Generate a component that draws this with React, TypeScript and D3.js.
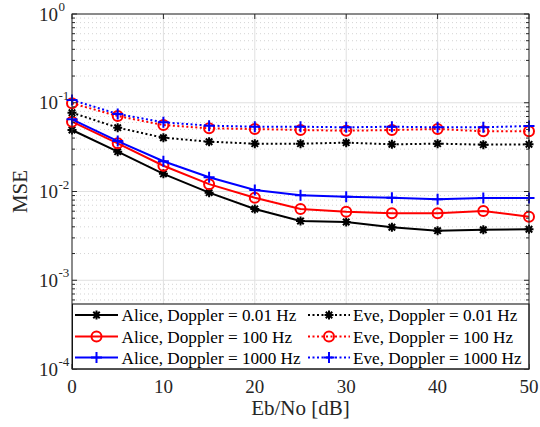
import React from "react";
import * as d3 from "d3";

const snr = [0, 5, 10, 15, 20, 25, 30, 35, 40, 45, 50];
const aliceLow = [0.0493, 0.0281, 0.0158, 0.0097, 0.00635, 0.00465, 0.00453, 0.00395, 0.00362, 0.00371, 0.00375];
const alice100 = [0.0612, 0.0349, 0.0195, 0.0121, 0.0085, 0.00635, 0.00592, 0.00568, 0.00568, 0.00603, 0.0052];
const alice1000 = [0.065, 0.037, 0.0219, 0.0145, 0.0104, 0.00906, 0.00874, 0.00851, 0.00817, 0.00845, 0.00845];
const eveLow = [0.0773, 0.0524, 0.0404, 0.0364, 0.0346, 0.0346, 0.0355, 0.034, 0.0346, 0.0337, 0.034];
const eve100 = [0.0986, 0.0709, 0.0561, 0.0515, 0.0506, 0.0493, 0.0484, 0.0493, 0.0506, 0.0477, 0.0477];
const eve1000 = [0.1075, 0.0747, 0.0602, 0.0552, 0.0537, 0.0537, 0.0529, 0.0537, 0.0529, 0.0529, 0.0547];

const xTicks = [0, 10, 20, 30, 40, 50];
const yDecades = [-4, -3, -2, -1, 0];

const seriesNames = [
  "Alice, Doppler = 0.01 Hz",
  "Alice, Doppler = 100 Hz",
  "Alice, Doppler = 1000 Hz",
  "Eve, Doppler = 0.01 Hz",
  "Eve, Doppler = 100 Hz",
  "Eve, Doppler = 1000 Hz",
];

type Series = { name: string; values: number[]; color: string; dotted: boolean; marker: string };

const series: Series[] = [
  { name: seriesNames[0], values: aliceLow, color: "#000000", dotted: false, marker: "star" },
  { name: seriesNames[1], values: alice100, color: "#ff0000", dotted: false, marker: "circle" },
  { name: seriesNames[2], values: alice1000, color: "#0000ff", dotted: false, marker: "plus" },
  { name: seriesNames[3], values: eveLow, color: "#000000", dotted: true, marker: "star" },
  { name: seriesNames[4], values: eve100, color: "#ff0000", dotted: true, marker: "circle" },
  { name: seriesNames[5], values: eve1000, color: "#0000ff", dotted: true, marker: "plus" },
];

const W = 540;
const H = 427;
const L = 72, R = 529, T = 14, B = 369;
const FONT = "Liberation Serif";

function Marker({ type, x, y, color }: { type: string; x: number; y: number; color: string }) {
  if (type === "circle") {
    return <circle cx={x} cy={y} r={5} fill="none" stroke={color} strokeWidth={2} />;
  }
  if (type === "plus") {
    const s = 5.5;
    return (
      <path d={`M${x - s},${y}H${x + s}M${x},${y - s}V${y + s}`} stroke={color} strokeWidth={2} fill="none" />
    );
  }
  const s = 4.5;
  const d = s * 0.72;
  return (
    <path
      d={`M${x - s},${y}H${x + s}M${x},${y - s}V${y + s}M${x - d},${y - d}L${x + d},${y + d}M${x - d},${y + d}L${x + d},${y - d}`}
      stroke={color}
      strokeWidth={2}
      fill="none"
    />
  );
}

export default function App() {
  const x = d3.scaleLinear().domain([0, 50]).range([L, R]);
  const y = d3.scaleLog().domain([1e-4, 1]).range([B, T]);
  const line = d3
    .line<number>()
    .x((_, i) => x(snr[i]))
    .y((v) => y(v));

  const minor: number[] = [];
  for (const e of yDecades.slice(0, -1)) {
    for (let k = 2; k <= 9; k++) minor.push(k * Math.pow(10, e));
  }
  const axisColor = "#262626";

  const legTop = 304;
  const legRows = [315, 336.5, 357.5];
  const legCols = [
    { x0: 75, x1: 118, tx: 121.5 },
    { x0: 308, x1: 350, tx: 353 },
  ];

  return (
    <svg width={W} height={H} style={{ position: "absolute", left: 0, top: 0, background: "#fff" }} fontFamily={FONT}>
      <rect x={0} y={0} width={W} height={H} fill="#fff" />
      {minor.map((v, i) => (
        <line key={"mg" + i} x1={L} x2={R} y1={y(v)} y2={y(v)} stroke="#c8c8c8" strokeWidth={0.8} strokeDasharray="1 3" />
      ))}
      {yDecades.map((e) => (
        <line key={"yg" + e} x1={L} x2={R} y1={y(Math.pow(10, e))} y2={y(Math.pow(10, e))} stroke="#e0e0e0" strokeWidth={1} />
      ))}
      {xTicks.map((t) => (
        <line key={"xg" + t} x1={x(t)} x2={x(t)} y1={T} y2={B} stroke="#e0e0e0" strokeWidth={1} />
      ))}
      {series.map((s, si) => (
        <g key={"s" + si}>
          <path
            d={line(s.values) || ""}
            fill="none"
            stroke={s.color}
            strokeWidth={2}
            strokeDasharray={s.dotted ? "2 2.5" : undefined}
          />
          {s.values.map((v, i) => (
            <Marker key={i} type={s.marker} x={x(snr[i])} y={y(v)} color={s.color} />
          ))}
        </g>
      ))}
      {xTicks.map((t) => (
        <g key={"xt" + t}>
          <line x1={x(t)} x2={x(t)} y1={B} y2={B - 5} stroke={axisColor} />
          <line x1={x(t)} x2={x(t)} y1={T} y2={T + 5} stroke={axisColor} />
          <text x={x(t)} y={393} textAnchor="middle" fontSize={19} fill={axisColor}>
            {t}
          </text>
        </g>
      ))}
      {yDecades.map((e) => (
        <g key={"yt" + e}>
          <line x1={L} x2={L + 5} y1={y(Math.pow(10, e))} y2={y(Math.pow(10, e))} stroke={axisColor} />
          <line x1={R} x2={R - 5} y1={y(Math.pow(10, e))} y2={y(Math.pow(10, e))} stroke={axisColor} />
          <text x={58} y={y(Math.pow(10, e)) + 6.5} textAnchor="end" fontSize={19} fill={axisColor}>
            10
          </text>
          <text x={58.5} y={y(Math.pow(10, e)) - 3} textAnchor="start" fontSize={13} fill={axisColor}>
            {e === 0 ? "0" : "-" + Math.abs(e)}
          </text>
        </g>
      ))}
      {minor.map((v, i) => (
        <g key={"mt" + i}>
          <line x1={L} x2={L + 3} y1={y(v)} y2={y(v)} stroke={axisColor} />
          <line x1={R} x2={R - 3} y1={y(v)} y2={y(v)} stroke={axisColor} />
        </g>
      ))}
      <rect x={72.5} y={legTop} width={456.5} height={B - legTop} fill="#fff" stroke="#000" strokeWidth={1} />
      {series.map((s, si) => {
        const col = legCols[Math.floor(si / 3)];
        const ry = legRows[si % 3];
        return (
          <g key={"lg" + si}>
            <line
              x1={col.x0}
              x2={col.x1}
              y1={ry}
              y2={ry}
              stroke={s.color}
              strokeWidth={2}
              strokeDasharray={s.dotted ? "2 2.5" : undefined}
            />
            <Marker type={s.marker} x={(col.x0 + col.x1) / 2} y={ry} color={s.color} />
            <text x={col.tx} y={ry + 6} fontSize={17.2} fill="#000">
              {s.name}
            </text>
          </g>
        );
      })}
      <rect x={L} y={T} width={R - L} height={B - T} fill="none" stroke={axisColor} strokeWidth={1} />
      <text x={(L + R) / 2} y={415} textAnchor="middle" fontSize={21} fill={axisColor}>
        Eb/No [dB]
      </text>
      <text
        transform={`translate(27,${(T + B) / 2}) rotate(-90)`}
        textAnchor="middle"
        fontSize={21}
        fill={axisColor}
      >
        MSE
      </text>
    </svg>
  );
}
